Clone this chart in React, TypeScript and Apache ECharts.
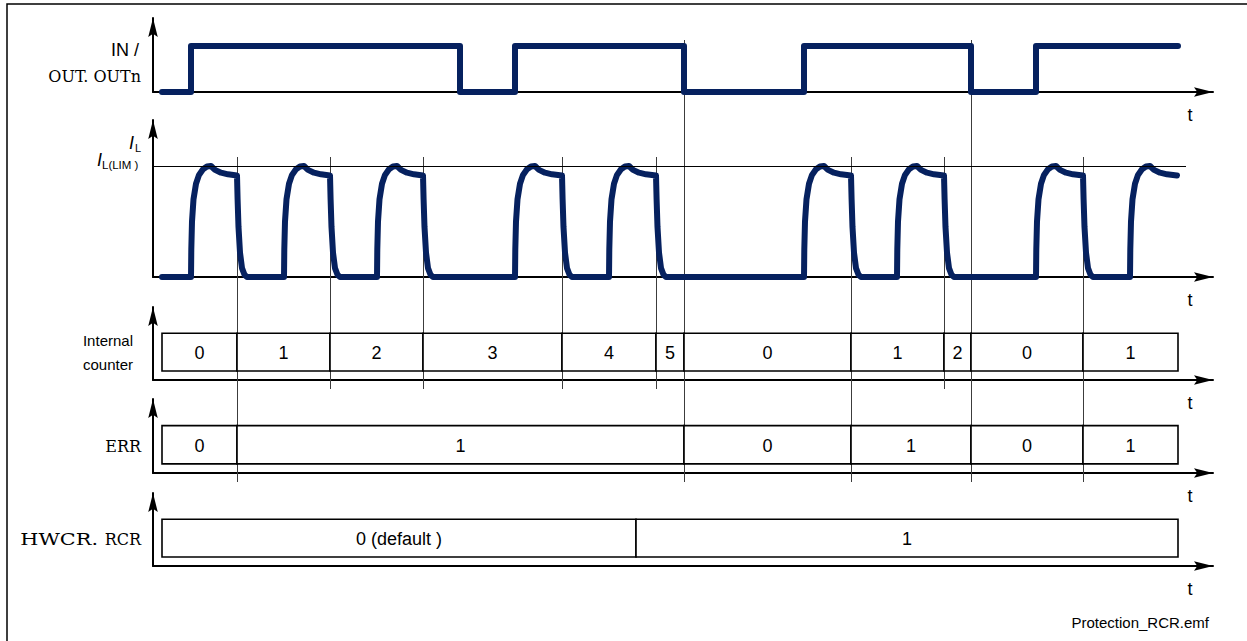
import React, { useEffect, useRef } from 'react';
import * as echarts from 'echarts';

// ---------------- data (time units along t: 0 = vertical axis, 1060 = arrow tip) ----------------
const T_START = 9;
const T_END = 1025;

// IN / OUT.OUTn: starts low, toggles at each edge
const inEdges = [38, 307, 362, 531, 651, 818, 883];

// I_L pulses: [rise, fall] (null = still on at the end)
const ilPulses: [number, number | null][] = [
  [38, 84], [131, 177], [224, 270], [362, 409], [456, 503],
  [651, 698], [744, 791], [883, 930], [977, null],
];
// pulse shape: [dt after rise, I_L / I_L(LIM)]
const pulseRise: [number, number][] = [
  [0, 0], [0.3, 0.25], [1, 0.5], [2.5, 0.7], [5, 0.84], [8, 0.92], [12, 0.97], [16, 0.995],
  [20, 1.0], [24, 0.965], [30, 0.94], [37, 0.925], [47, 0.915],
];
// [dt after fall, I_L / I_L(LIM)]
const pulseFall: [number, number][] = [
  [0, 0.915], [0.6, 0.7], [1.5, 0.45], [3, 0.22], [5, 0.08], [7.5, 0.02], [10, 0],
];
const I_LIM = 1;

const counterCells: [number, number, string][] = [
  [9, 84, '0'], [84, 177, '1'], [177, 270, '2'], [270, 409, '3'], [409, 503, '4'],
  [503, 531, '5'], [531, 698, '0'], [698, 791, '1'], [791, 818, '2'], [818, 930, '0'],
  [930, 1025, '1'],
];
const errCells: [number, number, string][] = [
  [9, 84, '0'], [84, 531, '1'], [531, 698, '0'], [698, 818, '1'], [818, 930, '0'], [930, 1025, '1'],
];
const rcrCells: [number, number, string][] = [
  [9, 483, '0 (default )'], [483, 1025, '1'],
];

// vertical event markers: [t, span kind]
const eventLines: [number, string][] = [
  [84, 'long'], [177, 'short'], [270, 'short'], [409, 'short'], [503, 'short'],
  [531, 'reset'], [698, 'long'], [791, 'short'], [818, 'reset'], [930, 'long'],
];

// ---------------- layout ----------------
const W = 1247;
const H = 641;
const X_LEFT = 153;
const X_SPAN = 1060;
const PANELS = [
  { top: 18, base: 92 },   // IN
  { top: 120, base: 277 }, // I_L
  { top: 307, base: 380 }, // counter
  { top: 399, base: 473 }, // ERR
  { top: 493, base: 566 }, // RCR
];
const SPANS: Record<string, [number, number]> = {
  short: [157, 389],
  long: [157, 482],
  reset: [40, 482],
};
const CELL_LO = 0.123;
const CELL_HI = 0.64;
const NAVY = '#06215f';
const SANS = '"Liberation Sans", Arial, sans-serif';
const SERIF = '"DejaVu Serif", serif';
const ARROW = 'path://M5,0L10,20L5,16.5L0,20Z';

function buildIn(): [number, number][] {
  const pts: [number, number][] = [[T_START, 0]];
  let level = 0;
  for (const e of inEdges) {
    pts.push([e, level]);
    level = 1 - level;
    pts.push([e, level]);
  }
  pts.push([T_END, level]);
  return pts;
}

function buildIl(): [number, number][] {
  const pts: [number, number][] = [[T_START, 0]];
  for (const [r, f] of ilPulses) {
    const on = f == null ? T_END - 1 - r : f - r;
    for (const [dt, v] of pulseRise) {
      if (dt < on || (f == null && dt <= on)) pts.push([r + dt, v * I_LIM]);
    }
    if (f != null) {
      for (const [dt, v] of pulseFall) pts.push([f + dt, v * I_LIM]);
    }
  }
  return pts;
}

function cellSeries(idx: number, cells: [number, number, string][]) {
  return {
    type: 'custom',
    xAxisIndex: idx,
    yAxisIndex: idx,
    z: 3,
    clip: false,
    data: cells.map((c) => [c[0], c[1]]),
    renderItem: (params: any, api: any) => {
      const s = api.value(0);
      const e = api.value(1);
      const p0 = api.coord([s, CELL_HI]);
      const p1 = api.coord([e, CELL_LO]);
      return {
        type: 'group',
        children: [
          {
            type: 'rect',
            shape: { x: p0[0], y: p0[1], width: p1[0] - p0[0], height: p1[1] - p0[1] },
            style: { fill: '#fff', stroke: '#000', lineWidth: 1.6 },
          },
          {
            type: 'text',
            style: {
              text: cells[params.dataIndex][2],
              x: (p0[0] + p1[0]) / 2,
              y: (p0[1] + p1[1]) / 2 + 1,
              align: 'center',
              verticalAlign: 'middle',
              font: `18px ${SANS}`,
              fill: '#000',
            },
          },
        ],
      };
    },
  };
}

function axisLine() {
  return {
    show: true,
    onZero: true,
    symbol: ['none', ARROW],
    symbolSize: [18, 19],
    symbolOffset: [0, -9.5],
    lineStyle: { color: '#000', width: 2 },
  };
}

export default function App() {
  const ref = useRef<HTMLDivElement>(null);
  useEffect(() => {
    if (!ref.current) return;
    const chart = echarts.init(ref.current, null, { renderer: 'svg' });

    const grids = PANELS.map((p) => ({ left: X_LEFT, width: X_SPAN, top: p.top, height: p.base - p.top }));
    grids.push({ left: X_LEFT, width: X_SPAN, top: 0, height: H });

    const yMax = [
      (PANELS[0].base - PANELS[0].top) / 46,
      (PANELS[1].base - PANELS[1].top) / 111,
      1, 1, 1, 1,
    ];

    const xAxes = grids.map((_, i) => ({
      type: 'value',
      gridIndex: i,
      min: 0,
      max: X_SPAN,
      show: i < 5,
      axisLine: axisLine(),
      axisTick: { show: false },
      axisLabel: { show: false },
      splitLine: { show: false },
    }));
    const yAxes = grids.map((_, i) => ({
      type: 'value',
      gridIndex: i,
      min: 0,
      max: yMax[i],
      show: i < 5,
      axisLine: axisLine(),
      axisTick: { show: false },
      axisLabel: { show: false },
      splitLine: { show: false },
    }));

    const texts: any[] = [];
    const addText = (text: string, x: number, y: number, align: string, font: string, scaleX = 1) =>
      texts.push({
        type: 'text',
        silent: true,
        x,
        y,
        scaleX,
        style: { text, x: 0, y: 0, align, verticalAlign: 'middle', font, fill: '#000' },
      });

    addText('IN /', 139, 50, 'right', `18px ${SANS}`);
    addText('OUT. OUTn', 141, 76, 'right', `16px ${SERIF}`);
    addText('I', 134, 143, 'right', `italic 18px ${SANS}`);
    addText('L', 135, 148, 'left', `11px ${SANS}`);
    addText('I', 102, 160, 'right', `italic 18px ${SANS}`);
    addText('L(LIM )', 102, 165, 'left', `11.5px ${SANS}`);
    addText('Internal', 133, 340, 'right', `15px ${SANS}`);
    addText('counter', 133, 364, 'right', `15px ${SANS}`);
    addText('ERR', 141, 446, 'right', `16px ${SERIF}`);
    addText('HWCR.', 98, 539, 'right', `16px ${SERIF}`, 1.3);
    addText('RCR', 141, 539, 'right', `16px ${SERIF}`);
    PANELS.forEach((p) => addText('t', 1190, p.base + 23, 'center', `18px ${SANS}`));
    addText('Protection_RCR.emf', 1209, 622, 'right', `15px ${SANS}`);

    chart.setOption({
      animation: false,
      backgroundColor: '#fff',
      grid: grids,
      xAxis: xAxes,
      yAxis: yAxes,
      graphic: [
        {
          type: 'rect',
          silent: true,
          shape: { x: 7, y: 4, width: 1400, height: 800 },
          style: { fill: 'none', stroke: '#000', lineWidth: 1.5 },
          z: 0,
        },
        ...texts,
      ],
      series: [
        {
          type: 'line',
          xAxisIndex: 0,
          yAxisIndex: 0,
          data: buildIn(),
          showSymbol: false,
          symbol: 'none',
          clip: false,
          z: 4,
          lineStyle: { width: 6, color: NAVY, cap: 'round', join: 'round' },
        },
        {
          type: 'line',
          xAxisIndex: 1,
          yAxisIndex: 1,
          data: buildIl(),
          showSymbol: false,
          symbol: 'none',
          clip: false,
          z: 4,
          lineStyle: { width: 6, color: NAVY, cap: 'round', join: 'round' },
          markLine: {
            silent: true,
            symbol: 'none',
            label: { show: false },
            lineStyle: { color: '#000', width: 1, type: 'solid' },
            data: [[{ coord: [0, I_LIM] }, { coord: [1033, I_LIM] }]],
          },
        },
        cellSeries(2, counterCells),
        cellSeries(3, errCells),
        cellSeries(4, rcrCells),
        {
          type: 'custom',
          xAxisIndex: 5,
          yAxisIndex: 5,
          z: 2,
          clip: false,
          data: eventLines.map((e) => [e[0]]),
          renderItem: (params: any, api: any) => {
            const x = Math.round(api.coord([api.value(0), 0])[0]) + 0.5;
            const [y1, y2] = SPANS[eventLines[params.dataIndex][1]];
            return {
              type: 'line',
              shape: { x1: x, y1, x2: x, y2 },
              style: { stroke: '#3c3c3c', lineWidth: 1 },
            };
          },
        },
      ],
    });
    return () => chart.dispose();
  }, []);
  return <div ref={ref} style={{ position: 'absolute', left: 0, top: 0, width: W, height: H }} />;
}
